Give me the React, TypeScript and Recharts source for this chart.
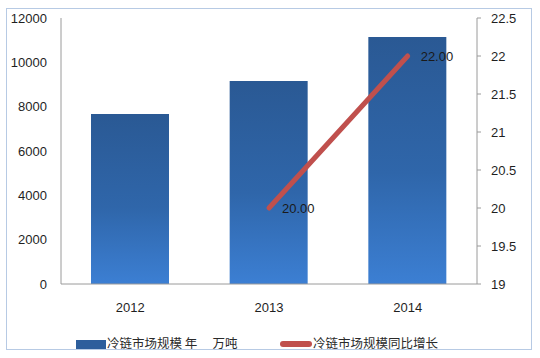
import React from 'react';
import { ComposedChart, Bar, Line, XAxis, YAxis, Legend, LabelList } from 'recharts';

const years = ['2012', '2013', '2014'];
const marketScale = [7670, 9160, 11140];
const growthRate: (number | null)[] = [null, 20, 22];
const leftTicks = [0, 2000, 4000, 6000, 8000, 10000, 12000];
const rightTicks = [19, 19.5, 20, 20.5, 21, 21.5, 22, 22.5];

const barName = '冷链市场规模 年　 万吨';
const lineName = '冷链市场规模同比增长';

const data = years.map((y, i) => ({ year: y, scale: marketScale[i], growth: growthRate[i] }));

const textColor = '#1f1f1f';
const font = '"Liberation Sans", Arial, sans-serif';

const LegendContent = () => (
  <div style={{ position: 'relative', width: 540, height: 26, fontFamily: '"Noto Sans CJK SC", sans-serif', fontSize: 12.5, color: '#2a2a2a' }}>
    <div style={{ position: 'absolute', left: 76, top: 8, width: 30, height: 9, background: '#2D5E9C' }} />
    <div style={{ position: 'absolute', left: 107, top: 2, whiteSpace: 'pre', lineHeight: '18px' }}>{barName}</div>
    <div style={{ position: 'absolute', left: 280, top: 9, width: 32, height: 6, borderRadius: 3, background: '#C0504D' }} />
    <div style={{ position: 'absolute', left: 313, top: 2, whiteSpace: 'pre', lineHeight: '18px' }}>{lineName}</div>
  </div>
);

export default function App() {
  return (
    <div style={{ position: 'absolute', left: 0, top: 0, width: 540, height: 358, background: '#fff' }}>
      <div style={{ position: 'absolute', left: 6, top: 8, width: 524, height: 340, border: '1px solid #B7CAE4' }} />
      <ComposedChart width={540} height={358} data={data} margin={{ top: 18, right: 0, bottom: 0, left: 0 }}>
        <defs>
          <linearGradient id="barGrad" x1="0" y1="0" x2="0" y2="1">
            <stop offset="0%" stopColor="#2A5994" />
            <stop offset="55%" stopColor="#2F66AA" />
            <stop offset="100%" stopColor="#3C7FD3" />
          </linearGradient>
        </defs>
        <XAxis
          dataKey="year"
          height={48}
          tickLine={false}
          axisLine={{ stroke: '#9a9a9a' }}
          tick={{ fill: textColor, fontSize: 13, fontFamily: font }}
          tickMargin={13}
        />
        <YAxis
          yAxisId="left"
          orientation="left"
          width={61}
          domain={[0, 12000]}
          ticks={leftTicks}
          interval={0}
          tickLine={false}
          tickSize={6}
          tickMargin={8}
          axisLine={{ stroke: '#9a9a9a' }}
          tick={{ fill: textColor, fontSize: 13, fontFamily: font }}
        />
        <YAxis
          yAxisId="right"
          orientation="right"
          width={63}
          domain={[19, 22.5]}
          ticks={rightTicks}
          interval={0}
          tickSize={4}
          tickMargin={10}
          tickLine={{ stroke: '#9a9a9a' }}
          axisLine={{ stroke: '#9a9a9a' }}
          tick={{ fill: textColor, fontSize: 13, fontFamily: font }}
        />
        <Legend
          verticalAlign="bottom"
          content={<LegendContent />}
          wrapperStyle={{ left: 0, width: 540, height: 26 }}
        />
        <Bar yAxisId="left" dataKey="scale" name={barName} barSize={78} fill="url(#barGrad)" isAnimationActive={false} />
        <Line
          yAxisId="right"
          dataKey="growth"
          name={lineName}
          stroke="#C0504D"
          strokeWidth={5}
          strokeLinecap="round"
          dot={false}
          activeDot={false}
          isAnimationActive={false}
        >
          <LabelList
            dataKey="growth"
            position="right"
            offset={13}
            formatter={(v: any) => (v == null ? '' : Number(v).toFixed(2))}
            style={{ fill: '#1a1a1a', fontSize: 13, fontFamily: font }}
          />
        </Line>
      </ComposedChart>
    </div>
  );
}
